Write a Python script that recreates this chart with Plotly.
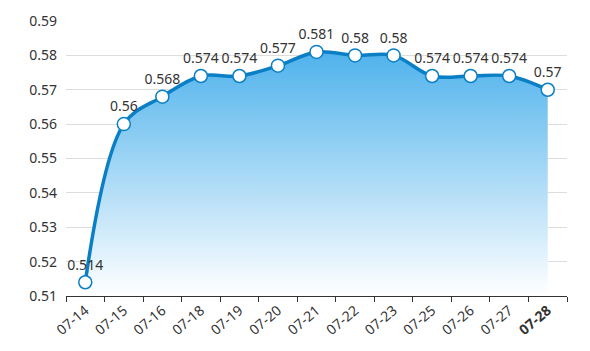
import plotly.graph_objects as go

dates = ["07-14", "07-15", "07-16", "07-18", "07-19", "07-20", "07-21",
         "07-22", "07-23", "07-25", "07-26", "07-27", "07-28"]
values = [0.514, 0.56, 0.568, 0.574, 0.574, 0.577, 0.581,
          0.58, 0.58, 0.574, 0.574, 0.574, 0.57]
labels = ["0.514", "0.56", "0.568", "0.574", "0.574", "0.577", "0.581",
          "0.58", "0.58", "0.574", "0.574", "0.574", "0.57"]
y_ticks = [0.51, 0.52, 0.53, 0.54, 0.55, 0.56, 0.57, 0.58, 0.59]
y_min, y_max = 0.51, 0.59

font_family = "Noto Sans, Open Sans, sans-serif"

fig = go.Figure()
fig.add_trace(go.Scatter(
    x=dates, y=values,
    mode="lines+markers+text",
    text=labels,
    textposition="top center",
    textfont=dict(size=14, color="#333333", family=font_family),
    line=dict(color="#0a7fc6", width=3.5, shape="spline", smoothing=1.0),
    marker=dict(size=13, color="white", line=dict(color="#0a7fc6", width=1.5)),
    fill="tozeroy",
    fillgradient=dict(type="vertical", start=y_min, stop=max(values),
                      colorscale=[[0, "rgba(255,255,255,1)"], [1, "rgba(79,178,236,1)"]]),
    cliponaxis=False,
    hoverinfo="skip",
))

ticktext = dates[:-1] + ["<b>" + dates[-1] + "</b>"]

fig.update_layout(
    width=590, height=351,
    margin=dict(l=66, r=23, t=21, b=55),
    paper_bgcolor="white", plot_bgcolor="white",
    showlegend=False,
    font=dict(family=font_family, size=13, color="#333333"),
)
fig.update_xaxes(
    type="category",
    tickangle=-40,
    tickson="boundaries",
    ticks="outside", ticklen=5, tickcolor="#333333",
    showline=True, linecolor="#333333", linewidth=1,
    showgrid=False,
    tickmode="array", tickvals=dates, ticktext=ticktext,
    tickfont=dict(size=14, color="#333333"),
    range=[-0.5, len(dates) - 0.5],
)
fig.update_yaxes(
    range=[y_min, y_max],
    tickvals=y_ticks,
    ticktext=[f"{v:.2f}" for v in y_ticks],
    showgrid=True, gridcolor="#dddddd", gridwidth=1,
    showline=False, zeroline=False,
    ticks="", tickfont=dict(size=14, color="#333333"),
    ticklabelstandoff=8,
)

fig.write_html("out.html")
